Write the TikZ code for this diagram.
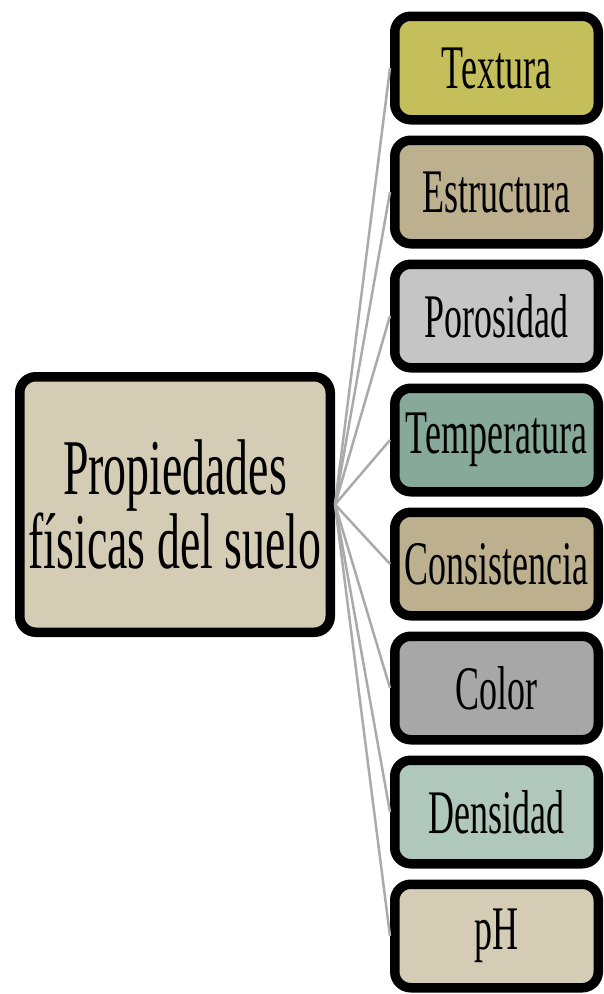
\documentclass[tikz,border=0pt]{standalone}
\usepackage{fontspec}
\setmainfont[FakeStretch=0.58]{Liberation Serif}
\usetikzlibrary{positioning}
\definecolor{sandfill}{HTML}{D5CCB6}
\definecolor{olivefill}{HTML}{C5BF5B}
\definecolor{tanfill}{HTML}{BDB08F}
\definecolor{silverfill}{HTML}{C5C5C5}
\definecolor{sagefill}{HTML}{86A999}
\definecolor{greyfill}{HTML}{A7A7A7}
\definecolor{mintfill}{HTML}{B0C8BC}
\definecolor{linkgray}{HTML}{AAAAAA}

\begin{document}
\begin{tikzpicture}[x=1pt, y=1pt, node distance=124pt, every node/.style={rectangle, draw=black, line width=9.5pt, rounded corners=16pt, align=center, text=black}, prop/.style={minimum width=203.5pt, minimum height=103.5pt, font=\fontsize{62}{64}\selectfont}, link/.style={draw=linkgray, line width=2.5pt}]
    \useasboundingbox (0,0) rectangle (603,-994);
    \node [fill=sandfill, minimum width=310.5pt, minimum height=255.5pt, font=\fontsize{79}{62}\selectfont] (suelo) at (175,-504.5) {Propiedades\\físicas del suelo};
    \node [prop, fill=olivefill] (textura) at (496.5,-68) {Textura};
    \node [prop, fill=tanfill, below of=textura] (estructura) {Estructura};
    \node [prop, fill=silverfill, below of=estructura] (porosidad) {Porosidad};
    \node [prop, fill=sagefill, below of=porosidad] (temperatura) {Temperatura};
    \node [prop, fill=tanfill, below of=temperatura] (consistencia) {Consistencia};
    \node [prop, fill=greyfill, below of=consistencia] (color) {Color};
    \node [prop, fill=mintfill, below of=color] (densidad) {Densidad};
    \node [prop, fill=sandfill, below of=densidad] (ph) {pH};

    \draw [link] (suelo.east) -- (textura.west);
    \draw [link] (suelo.east) -- (estructura.west);
    \draw [link] (suelo.east) -- (porosidad.west);
    \draw [link] (suelo.east) -- (temperatura.west);
    \draw [link] (suelo.east) -- (consistencia.west);
    \draw [link] (suelo.east) -- (color.west);
    \draw [link] (suelo.east) -- (densidad.west);
    \draw [link] (suelo.east) -- (ph.west);
\end{tikzpicture}
\end{document}
